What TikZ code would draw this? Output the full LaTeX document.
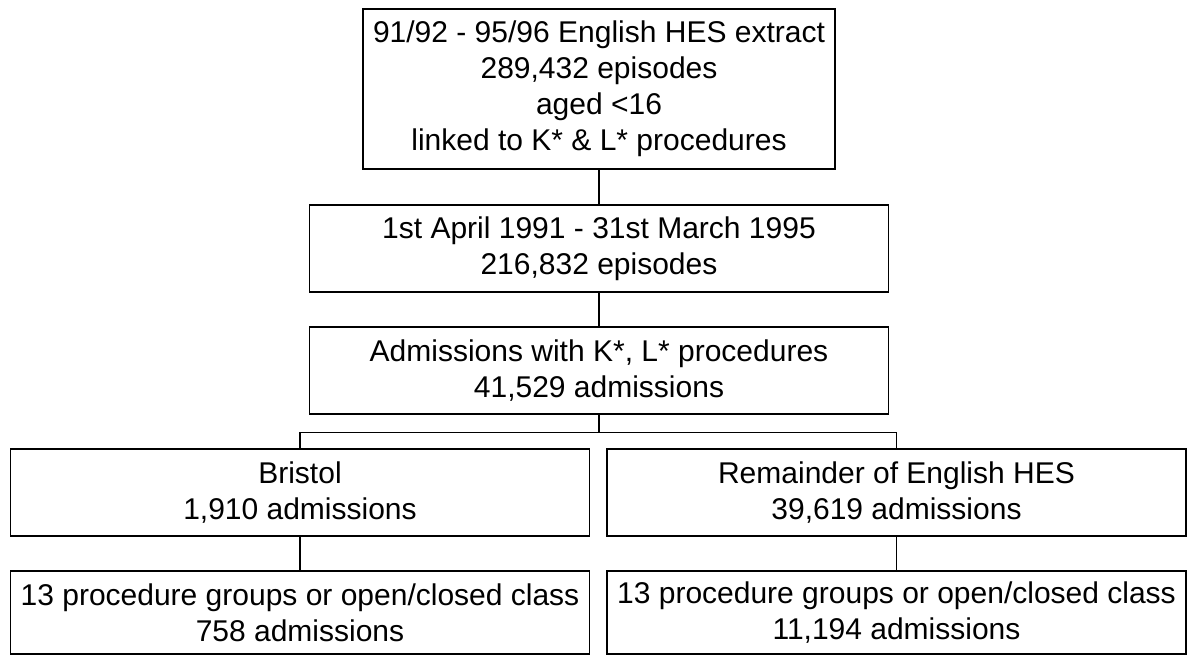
\documentclass[tikz,border=0pt]{standalone}
\usepackage{fontspec}
\setmainfont{Liberation Sans}
\usepackage{tikz}
\usetikzlibrary{positioning}
\tikzstyle{stage} = [rectangle, minimum width=289.5pt, minimum height=43.5pt, text centered, align=center, draw=black, line width=0.6pt, inner sep=2pt, font=\fontsize{15}{18}\selectfont]
\tikzstyle{source} = [stage, minimum width=236pt, minimum height=80pt]
\tikzstyle{subset} = [stage, minimum height=41.5pt]
\tikzstyle{link} = [line width=0.6pt]

\begin{document}
\begin{tikzpicture}[node distance=61pt]
\useasboundingbox (0,0) rectangle (595pt,-327.5pt);
\node (extract) [source] at (299.5pt,-44.5pt) {91/92 - 95/96 English HES extract\\
289,432 episodes\\
aged <16\\
linked to K* \& L* procedures};
\node (period) [stage, below of=extract, yshift=-18.75pt] {1st April 1991 - 31st March 1995\\
216,832 episodes};
\node (admissions) [stage, below of=period] {Admissions with K*, L* procedures\\
41,529 admissions};
\node (bristol) [stage, below of=admissions, xshift=-149.5pt] {Bristol\\
1,910 admissions};
\node (remainder) [stage, right of=bristol, xshift=237.25pt] {Remainder of English HES\\
39,619 admissions};
\node (groupsBristol) [subset, below of=bristol, yshift=1pt] {13 procedure groups or open/closed class\\
758 admissions};
\node (groupsRemainder) [subset, below of=remainder, yshift=1pt] {13 procedure groups or open/closed class\\
11,194 admissions};
\coordinate (split) at ([yshift=-8.75pt]admissions.south);

\draw [link] (extract) -- (period);
\draw [link] (period) -- (admissions);
\draw [link] (admissions) -- (split);
\draw [link] (split) -| (bristol);
\draw [link] (split) -| (remainder);
\draw [link] (bristol) -- (groupsBristol);
\draw [link] (remainder) -- (groupsRemainder);
\end{tikzpicture}
\end{document}
